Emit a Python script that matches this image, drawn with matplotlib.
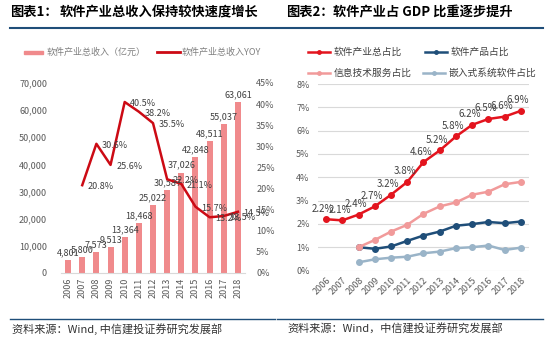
import numpy as np
import matplotlib
matplotlib.use('Agg')
import matplotlib.pyplot as plt
from matplotlib.lines import Line2D
from matplotlib.patches import Rectangle

plt.rcParams['font.family'] = ['Noto Sans CJK SC', 'DejaVu Sans']

# data
years = ['2006', '2007', '2008', '2009', '2010', '2011', '2012',
         '2013', '2014', '2015', '2016', '2017', '2018']
revenue = [4801, 5800, 7573, 9513, 13364, 18468, 25022,
           30587, 37026, 42848, 48511, 55037, 63061]
yoy_years = years[1:]
yoy = [20.8, 30.6, 25.6, 40.5, 38.2, 35.5, 22.2, 21.1, 15.7, 13.2, 13.5, 14.5]

total_share = [2.2, 2.15, 2.4, 2.75, 3.25, 3.8, 4.65, 5.15, 5.75, 6.25, 6.5, 6.6, 6.85]
total_labels = ['2.2%', '2.1%', '2.4%', '2.7%', '3.2%', '3.8%', '4.6%',
                '5.2%', '5.8%', '6.2%', '6.5%', '6.6%', '6.9%']
sub_years = years[2:]
product_share = [1.0, 0.93, 1.03, 1.27, 1.5, 1.67, 1.92, 1.99, 2.08, 2.03, 2.1]
service_share = [1.0, 1.31, 1.67, 1.96, 2.43, 2.75, 2.92, 3.25, 3.38, 3.7, 3.8]
embedded_share = [0.35, 0.48, 0.55, 0.59, 0.74, 0.81, 0.96, 1.0, 1.07, 0.88, 0.98]

W, H = 550, 341
fig = plt.figure(figsize=(5.5, 3.41), dpi=100)

def fx(px):
    return px / W

def fy(py):
    return 1 - py / H

grey = '#595959'
navy = '#1f4e79'
bar_c = '#f08a8c'
line_c = '#cc0a14'

# titles, rules and sources
for x0, x1, tag, title in [(10, 60, '图表1：', '软件产业总收入保持较快速度增长'),
                           (286, 333, '图表2：', '软件产业占 GDP 比重逐步提升')]:
    fig.text(fx(x0), fy(12), tag, fontsize=9.5, fontweight='bold', va='center')
    fig.text(fx(x1), fy(12), title, fontsize=9.5, fontweight='bold', va='center')
for x0, x1 in [(10, 275), (277, 543)]:
    fig.add_artist(Line2D([fx(x0), fx(x1)], [fy(28), fy(28)], color=navy, lw=1.5))
    fig.add_artist(Line2D([fx(x0), fx(x1)], [fy(319), fy(319)], color=navy, lw=1.0))
fig.text(fx(12), fy(329), '资料来源：Wind, 中信建投证券研究发展部', fontsize=8,
         style='italic', va='center', color='#333333')
fig.text(fx(287), fy(329), '资料来源：Wind，中信建投证券研究发展部', fontsize=8,
         style='italic', va='center', color='#333333')

# left legend
fig.add_artist(Rectangle((fx(24), fy(54)), fx(19), 3.5 / H, color=bar_c))
fig.text(fx(47), fy(52), '软件产业总收入（亿元）', fontsize=6.5, color='#7f7f7f', va='center')
fig.add_artist(Line2D([fx(157), fx(180)], [fy(52), fy(52)], color=line_c, lw=2))
fig.text(fx(182), fy(52), '软件产业总收入YOY', fontsize=6.5, color='#7f7f7f', va='center')

# left chart
ax = fig.add_axes([fx(61), fy(273), fx(184), (273 - 83) / H])
x = np.arange(len(years))
ax.bar(x, revenue, width=0.42, color=bar_c)
for i, v in enumerate(revenue):
    ax.annotate(f'{v:,}', (x[i], v), xytext=(0, 2), textcoords='offset points',
                ha='center', va='bottom', fontsize=6.5, color='#404040')
ax.set_ylim(0, 70000)
ax.set_xlim(-0.5, len(years) - 0.5)
ax.set_yticks(np.arange(0, 70001, 10000))
ax.set_yticklabels([f'{t:,}' for t in range(0, 70001, 10000)])
ax.set_xticks(x)
ax.set_xticklabels(years, rotation=90)
ax.tick_params(length=0, labelsize=6.5, labelcolor=grey)
ax.tick_params(axis='y', pad=10)
for s in ['top', 'right', 'left']:
    ax.spines[s].set_visible(False)
ax.spines['bottom'].set_color('#d9d9d9')

ax2 = ax.twinx()
xl = np.arange(1, len(years))
ax2.plot(xl, yoy, color=line_c, lw=1.8)
for i, v in enumerate(yoy):
    ax2.annotate(f'{v}%', (xl[i], v), xytext=(4, -1), textcoords='offset points',
                 ha='left', va='center', fontsize=6.5, color='#404040')
ax2.set_ylim(0, 45)
ax2.set_yticks(np.arange(0, 46, 5))
ax2.set_yticklabels([f'{t}%' for t in range(0, 46, 5)])
ax2.tick_params(length=0, labelsize=6.5, labelcolor=grey, pad=8)
for s in ax2.spines.values():
    s.set_visible(False)

# right legend
series = [
    (total_share, years, '#e3141e', '软件产业总占比', 308, 52),
    (product_share, sub_years, navy, '软件产品占比', 425, 52),
    (service_share, sub_years, '#f19a9a', '信息技术服务占比', 308, 73),
    (embedded_share, sub_years, '#9ab4c8', '嵌入式系统软件占比', 423, 73),
]
for vals, yrs, c, name, lx, ly in series:
    fig.add_artist(Line2D([fx(lx), fx(lx + 22)], [fy(ly), fy(ly)], color=c, lw=1.8))
    fig.add_artist(Line2D([fx(lx + 11)], [fy(ly)], color=c, marker='o', markersize=2.5))
    fig.text(fx(lx + 26), fy(ly), name, fontsize=7, color='#404040', va='center')

# right chart
bx = fig.add_axes([fx(318), fy(270.5), fx(211), (270.5 - 84) / H])
for vals, yrs, c, name, lx, ly in series:
    xs = [years.index(y) for y in yrs]
    bx.plot(xs, vals, color=c, lw=1.8, marker='o', markersize=4)
for i, v in enumerate(total_share):
    bx.annotate(total_labels[i], (i, v), xytext=(-2, 4), textcoords='offset points',
                ha='center', va='bottom', fontsize=7, color='#404040')
bx.set_ylim(0, 8)
bx.set_xlim(-0.5, len(years) - 0.5)
bx.set_yticks(np.arange(0, 9, 1))
bx.set_yticklabels([f'{t}%' for t in range(0, 9)])
bx.set_xticks(np.arange(len(years)))
bx.set_xticklabels(years, rotation=45, ha='right', rotation_mode='anchor')
bx.tick_params(length=0, labelsize=6.5, labelcolor=grey)
bx.tick_params(axis='y', pad=6)
bx.grid(axis='y', color='#d9d9d9', lw=0.8)
bx.set_axisbelow(True)
for s in bx.spines.values():
    s.set_visible(False)

fig.savefig('out.png', dpi=100)
